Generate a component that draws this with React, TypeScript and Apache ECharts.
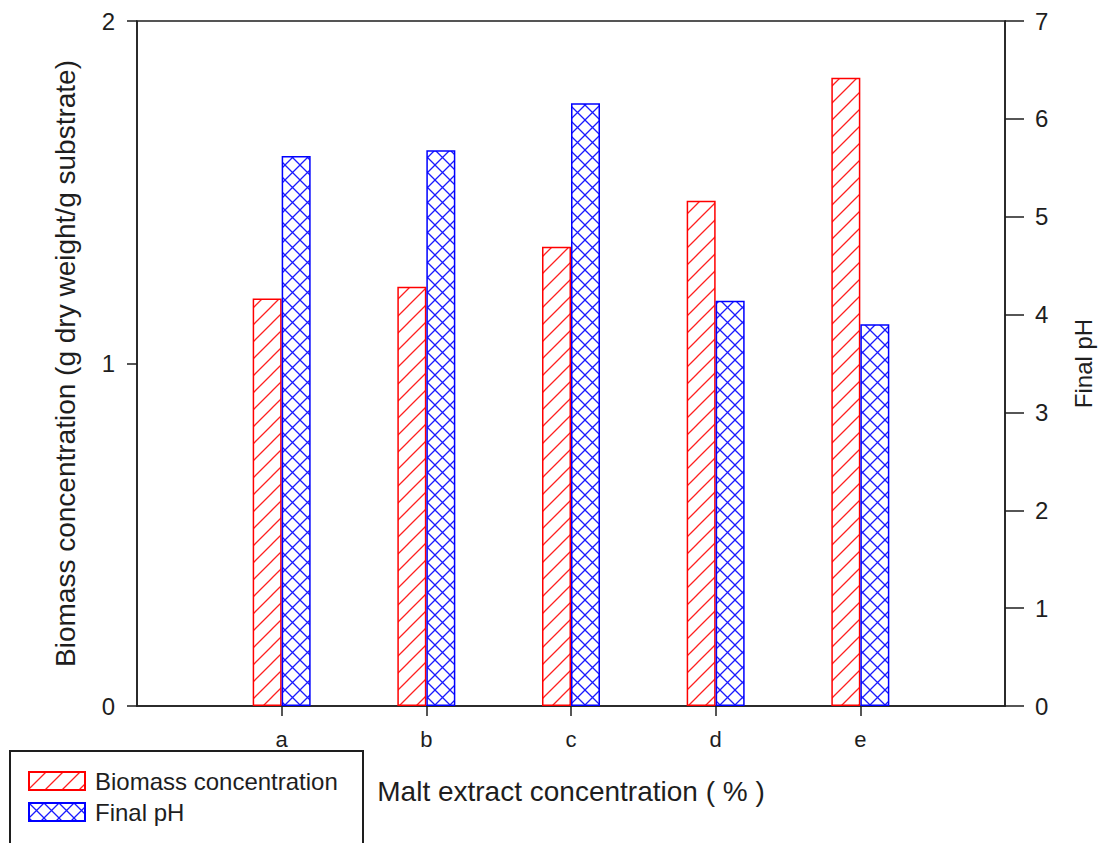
import React, { useEffect, useRef } from "react";
import * as echarts from "echarts";

const categories = ["", "a", "b", "c", "d", "e", ""];
const biomass = [null, 1.19, 1.224, 1.341, 1.475, 1.834, null];
const finalPH = [null, 5.62, 5.68, 6.16, 4.14, 3.9, null];
const leftTicks = [0, 2, 1];
const rightTicks = [0, 7, 1];

const FONT = "'Liberation Sans', Arial, sans-serif";
const TXT = "#1e1e1e";

function hatchPattern(size: number, color: string) {
  const c = document.createElement("canvas");
  c.width = size;
  c.height = size;
  const ctx = c.getContext("2d")!;
  ctx.fillStyle = "#fff";
  ctx.fillRect(0, 0, size, size);
  ctx.strokeStyle = color;
  ctx.lineWidth = 1.3;
  ctx.beginPath();
  ctx.moveTo(0, size);
  ctx.lineTo(size, 0);
  ctx.moveTo(-2, 2);
  ctx.lineTo(2, -2);
  ctx.moveTo(size - 2, size + 2);
  ctx.lineTo(size + 2, size - 2);
  ctx.stroke();
  return { image: c, repeat: "repeat", imageWidth: size, imageHeight: size } as any;
}

function crossPattern(size: number, color: string) {
  const c = document.createElement("canvas");
  c.width = size;
  c.height = size;
  const ctx = c.getContext("2d")!;
  ctx.fillStyle = "#fff";
  ctx.fillRect(0, 0, size, size);
  ctx.strokeStyle = color;
  ctx.lineWidth = 1.3;
  ctx.beginPath();
  ctx.moveTo(0, size);
  ctx.lineTo(size, 0);
  ctx.moveTo(-2, 2);
  ctx.lineTo(2, -2);
  ctx.moveTo(size - 2, size + 2);
  ctx.lineTo(size + 2, size - 2);
  ctx.moveTo(0, 0);
  ctx.lineTo(size, size);
  ctx.moveTo(-2, size - 2);
  ctx.lineTo(2, size + 2);
  ctx.moveTo(size - 2, -2);
  ctx.lineTo(size + 2, 2);
  ctx.stroke();
  return { image: c, repeat: "repeat", imageWidth: size, imageHeight: size } as any;
}

export default function App() {
  const ref = useRef<HTMLDivElement>(null);
  useEffect(() => {
    if (!ref.current) return;
    const chart = echarts.init(ref.current, null, { renderer: "svg" });
    const redFill = hatchPattern(17, "#ff2020");
    const blueFill = crossPattern(15, "#1a1aff");
    const axisLine = { show: true, lineStyle: { color: "#1e1e1e", width: 1.5 } };
    chart.setOption({
      animation: false,
      backgroundColor: "#fff",
      grid: {
        left: 137,
        right: 96,
        top: 21,
        bottom: 137,
        outerBoundsMode: "none",
        containLabel: false,
        show: true,
        borderColor: "#1e1e1e",
        borderWidth: 1.5,
      },
      legend: {
        orient: "vertical",
        left: 28,
        top: 769,
        padding: 0,
        itemWidth: 56,
        itemHeight: 18,
        itemGap: 7,
        icon: "rect",
        textStyle: { fontFamily: FONT, fontSize: 24, color: TXT, padding: [0, 0, 0, 5] },
        data: ["Biomass concentration", "Final pH"],
      },
      graphic: [
        {
          type: "rect",
          shape: { x: 10, y: 751, width: 353, height: 110 },
          style: { fill: "none", stroke: "#1e1e1e", lineWidth: 2 },
          z: 0,
        },
      ],
      xAxis: {
        type: "category",
        data: categories,
        boundaryGap: false,
        name: "Malt extract concentration ( % )",
        nameLocation: "middle",
        nameGap: 71,
        nameTextStyle: { fontFamily: FONT, fontSize: 28, color: TXT },
        axisLine,
        axisTick: {
          show: true,
          inside: false,
          length: 10,
          interval: (i: number) => i >= 1 && i <= 5,
          lineStyle: { color: "#1e1e1e", width: 1.5 },
        },
        axisLabel: {
          interval: 0,
          margin: 22,
          fontFamily: FONT,
          fontSize: 22,
          color: TXT,
        },
        splitLine: { show: false },
      },
      yAxis: [
        {
          type: "value",
          min: leftTicks[0],
          max: leftTicks[1],
          interval: leftTicks[2],
          position: "left",
          name: "Biomass concentration (g dry weight/g substrate)",
          nameLocation: "middle",
          nameGap: 58,
          nameTextStyle: { fontFamily: FONT, fontSize: 28, color: TXT },
          axisLine,
          axisTick: { show: true, inside: false, length: 10, lineStyle: { color: "#1e1e1e", width: 1.5 } },
          axisLabel: { margin: 22, fontFamily: FONT, fontSize: 24, color: TXT },
          splitLine: { show: false },
        },
        {
          type: "value",
          min: rightTicks[0],
          max: rightTicks[1],
          interval: rightTicks[2],
          position: "right",
          name: "Final pH",
          nameLocation: "middle",
          nameGap: 66,
          nameTextStyle: { fontFamily: FONT, fontSize: 24, color: TXT },
          axisLine,
          axisTick: { show: true, inside: false, length: 19, lineStyle: { color: "#1e1e1e", width: 1.5 } },
          axisLabel: { margin: 30, fontFamily: FONT, fontSize: 24, color: TXT },
          splitLine: { show: false },
        },
      ],
      series: [
        {
          name: "Biomass concentration",
          type: "bar",
          xAxisIndex: 0,
          yAxisIndex: 0,
          data: biomass,
          barWidth: 29,
          barGap: "0%",
          itemStyle: { color: redFill, borderColor: "#ff0000", borderWidth: 1.5 },
        },
        {
          name: "Final pH",
          type: "bar",
          xAxisIndex: 0,
          yAxisIndex: 1,
          data: finalPH,
          barWidth: 29,
          barGap: "0%",
          itemStyle: { color: blueFill, borderColor: "#0000ff", borderWidth: 1.5 },
        },
      ],
    });
    return () => chart.dispose();
  }, []);
  return (
    <div
      ref={ref}
      style={{ position: "fixed", left: 0, top: 0, width: 1101, height: 843, background: "#fff" }}
    />
  );
}
